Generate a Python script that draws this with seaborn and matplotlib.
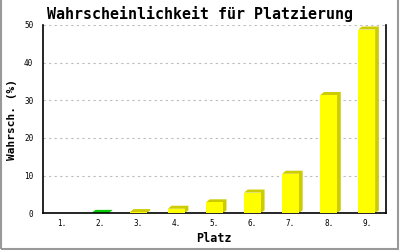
import matplotlib
matplotlib.use("Agg")
import matplotlib.pyplot as plt
import seaborn as sns
import pandas as pd
from matplotlib.patches import Polygon, Rectangle

places = ["1.", "2.", "3.", "4.", "5.", "6.", "7.", "8.", "9."]
probs = [0.0, 0.1, 0.3, 1.2, 2.9, 5.5, 10.5, 31.4, 48.8]
front_colors = ["#FFFF00", "#00CC00", "#FFFF00", "#FFFF00", "#FFFF00",
                "#FFFF00", "#FFFF00", "#FFFF00", "#FFFF00"]
shade_colors = ["#CCCC00", "#00CC00", "#CCCC00", "#CCCC00", "#CCCC00",
                "#CCCC00", "#CCCC00", "#CCCC00", "#CCCC00"]
yticks = [0, 10, 20, 30, 40, 50]

sns.set_theme(style="white")
plt.rcParams["font.family"] = ["DejaVu Sans Mono"]
plt.rcParams["text.color"] = "black"
plt.rcParams["axes.labelcolor"] = "black"
plt.rcParams["xtick.color"] = "black"
plt.rcParams["ytick.color"] = "black"

df = pd.DataFrame({"Platz": places, "p": probs})

fig = plt.figure(figsize=(4, 2.5), dpi=100)
ax = fig.add_axes([0.1075, 0.147, 0.857, 0.753])

sns.barplot(data=df, x="Platz", y="p", hue="Platz", palette=front_colors,
            legend=False, width=0.44, ax=ax, saturation=1, zorder=3,
            linewidth=0)

ax.set_xlim(-0.5, 8.5)
ax.set_ylim(0, 50)

# 3D depth effect
dx = 3.7 / (342.0 / 9.0)
dy = 3.0 / (188.0 / 50.0)
for patch, col in zip(ax.patches, shade_colors):
    x0 = patch.get_x()
    x1 = x0 + patch.get_width()
    y0 = patch.get_y()
    y1 = y0 + patch.get_height()
    if y1 - y0 <= 0:
        continue
    verts = [(x0, y1), (x0 + dx, y1 + dy), (x1 + dx, y1 + dy),
             (x1 + dx, y0 + dy), (x1, y0), (x1, y1)]
    ax.add_patch(Polygon(verts, closed=True, facecolor=col,
                         edgecolor="none", zorder=2.5, clip_on=False))

ax.set_yticks(yticks)
ax.set_yticklabels([str(v) for v in yticks], fontsize=5.5)
ax.set_xticks(range(len(places)))
ax.set_xticklabels(places, fontsize=5.5)
ax.tick_params(axis="y", length=6, width=1, color="black", direction="inout", pad=4)
ax.tick_params(axis="x", length=0, pad=4)

for y in yticks[1:]:
    ax.axhline(y, color="#BBBBBB", linestyle=(0, (2, 3)), linewidth=0.8, zorder=1)

for s in ["left", "bottom", "right"]:
    ax.spines[s].set_visible(True)
    ax.spines[s].set_color("black")
    ax.spines[s].set_linewidth(1.2)
ax.spines["top"].set_visible(False)

ax.set_xlabel("Platz", fontsize=8.5, fontweight="bold", labelpad=3)
ax.set_ylabel("Wahrsch. (%)", fontsize=8, fontweight="bold", labelpad=5)
fig.suptitle("Wahrscheinlichkeit für Platzierung", fontsize=10.8,
             fontweight="bold", y=0.975)

# outer gray border
fig.patches.append(Rectangle((0.003, 0.006), 0.993, 1.2, transform=fig.transFigure,
                             fill=False, edgecolor="#999999", linewidth=1.5))

fig.savefig("out.png", dpi=100)
